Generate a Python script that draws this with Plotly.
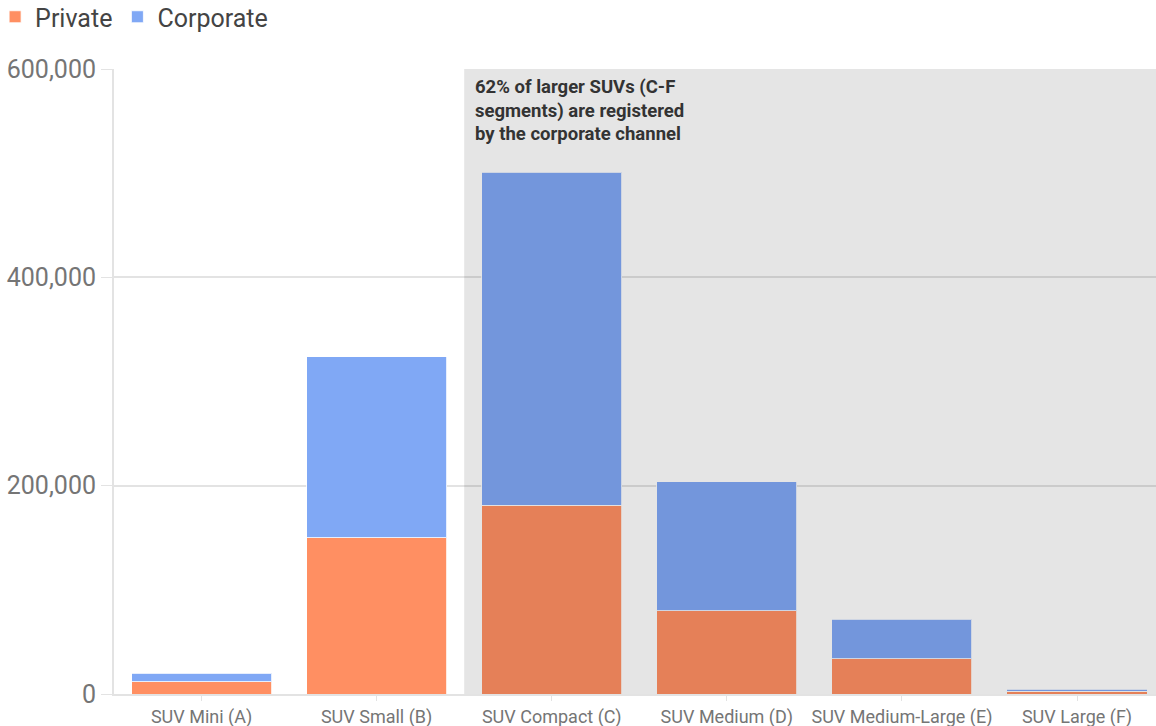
import plotly.graph_objects as go

# SUV registrations by segment and sales channel
segments = ["SUV Mini (A)", "SUV Small (B)", "SUV Compact (C)", "SUV Medium (D)",
            "SUV Medium-Large (E)", "SUV Large (F)"]
private = [12000, 150000, 181000, 80000, 34000, 2500]
corporate = [8000, 174000, 320000, 124000, 38000, 2000]

y_ticks = [0, 200000, 400000, 600000]
note_lines = ["62% of larger SUVs (C-F", "segments) are registered", "by the corporate channel"]

ORANGE = "#FF8F62"
BLUE = "#80A8F5"
GRID = "#E3E3E3"
X_MAX = 5.451  # last category is slightly cropped at the right edge

fig = go.Figure()
fig.add_trace(go.Bar(name="Private", x=segments, y=private, marker_color=ORANGE,
                     marker_line=dict(color="rgba(255,255,255,0.8)", width=1)))
fig.add_trace(go.Bar(name="Corporate", x=segments, y=corporate, marker_color=BLUE,
                     marker_line=dict(color="rgba(255,255,255,0.8)", width=1)))

# Shaded band over the larger segments (C-F)
fig.add_shape(type="rect", xref="x", yref="y", x0=1.5, x1=X_MAX, y0=0, y1=600000,
              fillcolor="rgba(0,0,0,0.1)", line_width=0, layer="above")

# Callout text, one line per annotation for tighter line spacing
for i, line in enumerate(note_lines):
    fig.add_annotation(x=1.5, y=600000, xref="x", yref="y", xanchor="left", yanchor="top",
                       xshift=9, yshift=-5 - 23.5 * i, text=line, showarrow=False,
                       align="left",
                       font=dict(family="Roboto", size=18.5, color="#333333", weight="bold"))

fig.update_layout(
    width=1156, height=726,
    barmode="stack", bargap=0.2,
    paper_bgcolor="white", plot_bgcolor="white",
    margin=dict(l=114, r=0, t=69, b=32, autoexpand=False),
    font=dict(family="Roboto", color="#757575"),
    legend=dict(orientation="h", x=-0.1141, y=1.12, xanchor="left", yanchor="top",
                font=dict(size=25, color="#444444"), itemwidth=30,
                traceorder="normal", tracegroupgap=0),
    showlegend=True,
)
fig.update_xaxes(showgrid=False, ticks="outside", ticklen=5, tickcolor=GRID,
                 showline=True, linecolor=GRID, linewidth=2, automargin=False,
                 tickfont=dict(size=18, color="#757575"), range=[-0.5, X_MAX])
fig.update_yaxes(range=[0, 600000], tickvals=y_ticks, tickformat=",",
                 showgrid=True, gridcolor=GRID, gridwidth=1.5,
                 showline=True, linecolor=GRID, linewidth=2, automargin=False,
                 ticks="outside", ticklen=11, tickcolor=GRID,
                 tickfont=dict(size=25, color="#757575"), zeroline=False)

fig.write_html("out.html")
